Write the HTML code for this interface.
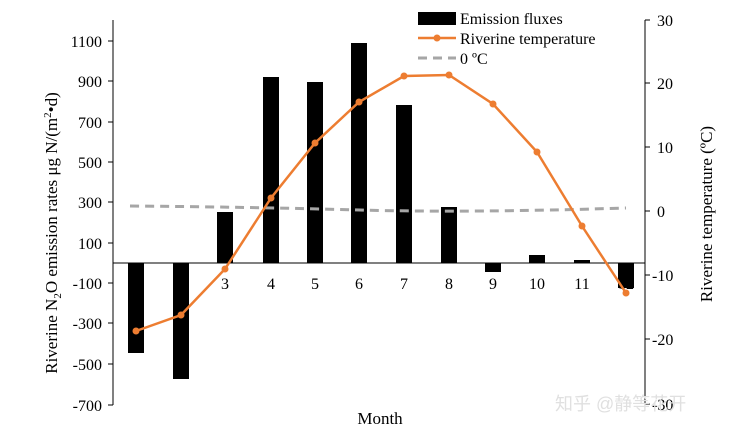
<!DOCTYPE html>
<html><head><meta charset="utf-8"><style>
body{margin:0;background:#fff;}
svg text{font-family:"Liberation Serif",serif;fill:#000;}
</style></head><body>
<svg width="729" height="431" xmlns="http://www.w3.org/2000/svg">
<rect width="729" height="431" fill="#fff"/>
<!-- axes -->
<line x1="113" y1="20" x2="113" y2="405" stroke="#000" stroke-width="1"/>
<line x1="645" y1="20" x2="645" y2="404" stroke="#000" stroke-width="1"/>
<line x1="113" y1="263" x2="645" y2="263" stroke="#000" stroke-width="1"/>
<g stroke="#000">
<line x1="108" y1="41" x2="113" y2="41"/><line x1="108" y1="81" x2="113" y2="81"/>
<line x1="108" y1="122" x2="113" y2="122"/><line x1="108" y1="162" x2="113" y2="162"/>
<line x1="108" y1="202" x2="113" y2="202"/><line x1="108" y1="243" x2="113" y2="243"/>
<line x1="108" y1="283" x2="113" y2="283"/><line x1="108" y1="323" x2="113" y2="323"/>
<line x1="108" y1="364" x2="113" y2="364"/><line x1="108" y1="405" x2="113" y2="405"/>
<line x1="645" y1="20" x2="650" y2="20"/><line x1="645" y1="83" x2="650" y2="83"/>
<line x1="645" y1="147" x2="650" y2="147"/><line x1="645" y1="211" x2="650" y2="211"/>
<line x1="645" y1="275" x2="650" y2="275"/><line x1="645" y1="339" x2="650" y2="339"/>
<line x1="645" y1="404" x2="650" y2="404"/>
</g>
<g font-size="16" text-anchor="end">
<text x="102" y="47">1100</text><text x="102" y="87">900</text><text x="102" y="128">700</text>
<text x="102" y="168">500</text><text x="102" y="208">300</text><text x="102" y="249">100</text>
<text x="102" y="289">-100</text><text x="102" y="329">-300</text><text x="102" y="370">-500</text>
<text x="102" y="411">-700</text>
</g>
<g font-size="16" text-anchor="start">
<text x="657" y="26">30</text><text x="657" y="89">20</text><text x="657" y="153">10</text>
<text x="657" y="217">0</text><text x="652" y="281">-10</text><text x="652" y="345">-20</text>
<text x="652" y="410">-30</text>
</g>
<!-- bars -->
<g fill="#000">
<rect x="128" y="263" width="16" height="90"/>
<rect x="173" y="263" width="16" height="116"/>
<rect x="217" y="212" width="16" height="51"/>
<rect x="263" y="77" width="16" height="186"/>
<rect x="307" y="82" width="16" height="181"/>
<rect x="351" y="43" width="16" height="220"/>
<rect x="396" y="105" width="16" height="158"/>
<rect x="441" y="207" width="16" height="56"/>
<rect x="485" y="263" width="16" height="9"/>
<rect x="529" y="255" width="16" height="8"/>
<rect x="574" y="260" width="16" height="3"/>
<rect x="618" y="263" width="16" height="25"/>
</g>
<!-- month labels -->
<g font-size="16" text-anchor="middle">
<text x="225" y="289">3</text><text x="271" y="289">4</text><text x="315" y="289">5</text>
<text x="359" y="289">6</text><text x="404" y="289">7</text><text x="449" y="289">8</text>
<text x="493" y="289">9</text><text x="537" y="289">10</text><text x="582" y="289">11</text>
<text x="626" y="289">12</text>
</g>
<!-- 0C dashed -->
<path d="M130 206 Q250 207 360 210 T626 208" fill="none" stroke="#a6a6a6" stroke-width="3" stroke-dasharray="9,6"/>
<!-- temperature -->
<polyline fill="none" stroke="#ed7d31" stroke-width="2.5" points="136,331 181,315 225,269 271,198 315,143 359,102 404,76 449,75 493,104 537,152 582,226 626,293"/>
<g fill="#ed7d31">
<circle cx="136" cy="331" r="3.5"/><circle cx="181" cy="315" r="3.5"/><circle cx="225" cy="269" r="3.5"/>
<circle cx="271" cy="198" r="3.5"/><circle cx="315" cy="143" r="3.5"/><circle cx="359" cy="102" r="3.5"/>
<circle cx="404" cy="76" r="3.5"/><circle cx="449" cy="75" r="3.5"/><circle cx="493" cy="104" r="3.5"/>
<circle cx="537" cy="152" r="3.5"/><circle cx="582" cy="226" r="3.5"/><circle cx="626" cy="293" r="3.5"/>
</g>
<!-- legend -->
<rect x="418" y="12" width="38" height="13" fill="#000"/>
<text x="460" y="24" font-size="16">Emission fluxes</text>
<line x1="418" y1="38" x2="456" y2="38" stroke="#ed7d31" stroke-width="2.5"/>
<circle cx="437" cy="38" r="3.5" fill="#ed7d31"/>
<text x="460" y="44" font-size="16">Riverine temperature</text>
<line x1="418" y1="58" x2="456" y2="58" stroke="#a6a6a6" stroke-width="3" stroke-dasharray="9,6"/>
<text x="460" y="64" font-size="16">0 ºC</text>
<!-- axis titles -->
<text x="380" y="424" font-size="17" text-anchor="middle">Month</text>
<text transform="translate(57,233) rotate(-90)" font-size="17" text-anchor="middle">Riverine N<tspan font-size="11" dy="4">2</tspan><tspan dy="-4">O emission rates μg N/(m</tspan><tspan font-size="11" dy="-6">2</tspan><tspan dy="6">•d)</tspan></text>
<text transform="translate(712,214) rotate(-90)" font-size="17" text-anchor="middle">Riverine temperature (ºC)</text>
<!-- watermark -->
<text x="555" y="410" font-size="18" fill="#e8e8e8" style="font-family:'Liberation Sans','Noto Sans CJK SC',sans-serif;fill:#e0e0e0">知乎 @静等花开</text>
</svg>
</body></html>
